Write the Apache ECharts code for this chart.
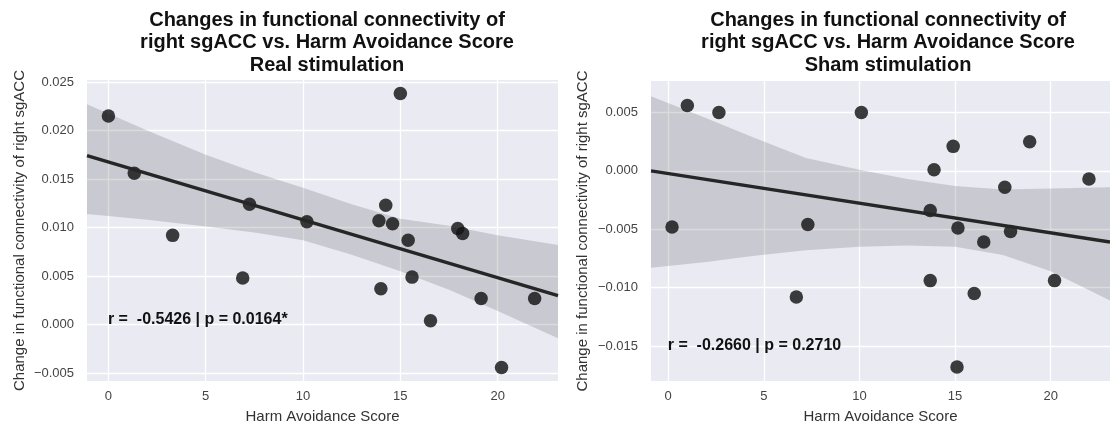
<!DOCTYPE html>
<html>
<head>
<meta charset="utf-8">
<script src="https://cdn.jsdelivr.net/npm/echarts@6/dist/echarts.min.js"></script>
<style>
  html, body { margin: 0; padding: 0; background: #ffffff; }
  #chart { width: 1110px; height: 429px; }
</style>
</head>
<body>
<div id="chart"></div>
<script>
// Harm Avoidance Score (x) vs change in right sgACC connectivity (y), per subject
const realScore  = [0, 1.33, 3.3, 6.9, 7.25, 10.2, 13.9, 14.0, 14.25, 14.6, 15.0, 15.4, 15.6, 16.55, 17.95, 18.2, 19.15, 20.2, 21.9];
const realChange = [0.0215, 0.0156, 0.0092, 0.0048, 0.0124, 0.0106, 0.0107, 0.0037, 0.0123, 0.0104, 0.0238, 0.0087, 0.0049, 0.0004, 0.0099, 0.0094, 0.0027, -0.0044, 0.0027];

const shamScore  = [0.2, 1.0, 2.65, 6.7, 7.3, 10.1, 13.7, 13.7, 13.9, 14.9, 15.1, 15.15, 16.0, 16.5, 17.6, 17.9, 18.9, 20.2, 22.0];
const shamChange = [-0.0048, 0.0056, 0.0050, -0.0108, -0.0046, 0.0050, -0.0034, -0.0094, 0.0001, 0.0021, -0.0168, -0.0049, -0.0105, -0.0061, -0.0014, -0.0052, 0.0025, -0.0094, -0.0007];

// Regression fit (end points) and its 95% confidence band
const realFitX = [-1.1, 23.1];
const realFitY = [0.0174, 0.0030];
const realBandX    = [-1.1, 2, 5, 7.5, 10, 12.5, 15, 17.5, 20, 23.1];
const realBandHigh = [0.0227, 0.0200, 0.0175, 0.0157, 0.0141, 0.0124, 0.0109, 0.0102, 0.0092, 0.0082];
const realBandLow  = [0.0114, 0.0108, 0.0101, 0.0095, 0.0087, 0.0072, 0.0055, 0.0036, 0.0014, -0.0014];

const shamFitX = [-0.9, 23.1];
const shamFitY = [0.0000, -0.0061];
const shamBandX    = [-0.9, 2, 4.4, 7.2, 10, 12.5, 15, 17.5, 20, 23.1];
const shamBandHigh = [0.0064, 0.0045, 0.0029, 0.0011, 0.0001, -0.0007, -0.0013, -0.0016, -0.0015, -0.0014];
const shamBandLow  = [-0.0083, -0.0078, -0.0073, -0.0068, -0.0065, -0.0064, -0.0065, -0.0072, -0.0086, -0.0111];

// Axis ticks
const scoreTicks = [0, 5, 10, 15, 20];
const realTicks  = [-0.005, 0, 0.005, 0.010, 0.015, 0.020, 0.025];
const shamTicks  = [-0.015, -0.010, -0.005, 0, 0.005];

// Texts
const titleCommon = 'Changes in functional connectivity of\nright sgACC vs. Harm Avoidance Score';
const realTitle = titleCommon + '\nReal stimulation';
const shamTitle = titleCommon + '\nSham stimulation';
const xName = 'Harm Avoidance Score';
const yName = 'Change in functional connectivity of right sgACC';
const realStat = 'r =  -0.5426 | p = 0.0164*';
const shamStat = 'r =  -0.2660 | p = 0.2710';
const realStatAt = [0, 0];
const shamStatAt = [0, -0.0154];

const FONT = 'Liberation Sans, Arial, sans-serif';
const TEXT = '#333333';
const TICK = '#444444';
const PLOT_BG = '#EAEAF2';
const BAND = 'rgba(40,40,46,0.17)';
const DOT = 'rgba(20,20,20,0.82)';
const LINE = '#262626';

function pairs(xs, ys) { return xs.map((x, i) => [x, ys[i]]); }
function fmtY(v) {
  const s = Math.abs(v).toFixed(3);
  return (v < -1e-12 ? '\u2212' : '') + s;
}

function bandRenderer(bx, lo, hi) {
  return function (params, api) {
    const pts = [];
    for (let i = 0; i < bx.length; i++) pts.push(api.coord([bx[i], hi[i]]));
    for (let i = bx.length - 1; i >= 0; i--) pts.push(api.coord([bx[i], lo[i]]));
    return { type: 'polygon', shape: { points: pts }, style: { fill: BAND } };
  };
}

function xAxisFor(gridIndex, min, max) {
  return {
    type: 'value', gridIndex, min, max,
    name: xName, nameLocation: 'middle', nameGap: 28,
    nameTextStyle: { fontFamily: FONT, fontSize: 15, color: TEXT },
    axisLine: { show: false }, axisTick: { show: false, customValues: scoreTicks },
    axisLabel: { customValues: scoreTicks, fontFamily: FONT, fontSize: 13, color: TICK, margin: 9 },
    splitLine: { show: true, lineStyle: { color: '#ffffff', width: 1.3 } }
  };
}
function yAxisFor(gridIndex, min, max, ticks, gap) {
  return {
    type: 'value', gridIndex, min, max,
    name: yName, nameLocation: 'middle', nameGap: gap, nameRotate: 90,
    nameTextStyle: { fontFamily: FONT, fontSize: 15, color: TEXT },
    axisLine: { show: false }, axisTick: { show: false, customValues: ticks },
    axisLabel: { customValues: ticks, formatter: fmtY, fontFamily: FONT, fontSize: 13, color: TICK, margin: 13 },
    splitLine: { show: true, lineStyle: { color: '#ffffff', width: 1.3 } }
  };
}

function panelSeries(idx, score, change, fitX, fitY, bx, lo, hi, stat, statAt) {
  return [
    {
      type: 'custom', xAxisIndex: idx, yAxisIndex: idx, z: 1,
      renderItem: bandRenderer(bx, lo, hi), data: [[bx[0], lo[0]]],
      encode: { x: 0, y: 1 }, silent: true
    },
    {
      type: 'scatter', xAxisIndex: idx, yAxisIndex: idx, z: 2,
      data: pairs(score, change), symbolSize: 13.5,
      itemStyle: { color: DOT, opacity: 1 }
    },
    {
      type: 'line', xAxisIndex: idx, yAxisIndex: idx, z: 3,
      data: pairs(fitX, fitY), symbol: 'none',
      lineStyle: { color: LINE, width: 3.4 }
    },
    {
      type: 'scatter', xAxisIndex: idx, yAxisIndex: idx, z: 4,
      data: [statAt], symbolSize: 1, itemStyle: { color: 'rgba(0,0,0,0)', opacity: 1 },
      label: {
        show: true, formatter: stat, position: [0, 0], align: 'left', verticalAlign: 'bottom',
        offset: [0, 3], fontFamily: FONT, fontWeight: 'bold', fontSize: 16, color: '#111111', opacity: 1
      }
    }
  ];
}

const chart = echarts.init(document.getElementById('chart'), null, { renderer: 'canvas' });
chart.setOption({
  animation: false,
  backgroundColor: '#ffffff',
  title: [
    { text: realTitle, left: 322, top: 4, textAlign: 'center',
      textStyle: { fontFamily: FONT, fontWeight: 'bold', fontSize: 20, lineHeight: 22.5, color: '#111111' } },
    { text: shamTitle, left: 883, top: 4, textAlign: 'center',
      textStyle: { fontFamily: FONT, fontWeight: 'bold', fontSize: 20, lineHeight: 22.5, color: '#111111' } }
  ],
  grid: [
    { left: 87, right: 552, top: 80, bottom: 44, show: true, backgroundColor: PLOT_BG, borderWidth: 0 },
    { left: 651, right: -8, top: 81, bottom: 43, show: true, backgroundColor: PLOT_BG, borderWidth: 0 }
  ],
  xAxis: [ xAxisFor(0, -1.1, 23.1), xAxisFor(1, -0.9, 23.1) ],
  yAxis: [ yAxisFor(0, -0.0058, 0.0252, realTicks, 60), yAxisFor(1, -0.0180, 0.0077, shamTicks, 61) ],
  series: [].concat(
    panelSeries(0, realScore, realChange, realFitX, realFitY, realBandX, realBandLow, realBandHigh, realStat, realStatAt),
    panelSeries(1, shamScore, shamChange, shamFitX, shamFitY, shamBandX, shamBandLow, shamBandHigh, shamStat, shamStatAt)
  )
});
</script>
</body>
</html>
